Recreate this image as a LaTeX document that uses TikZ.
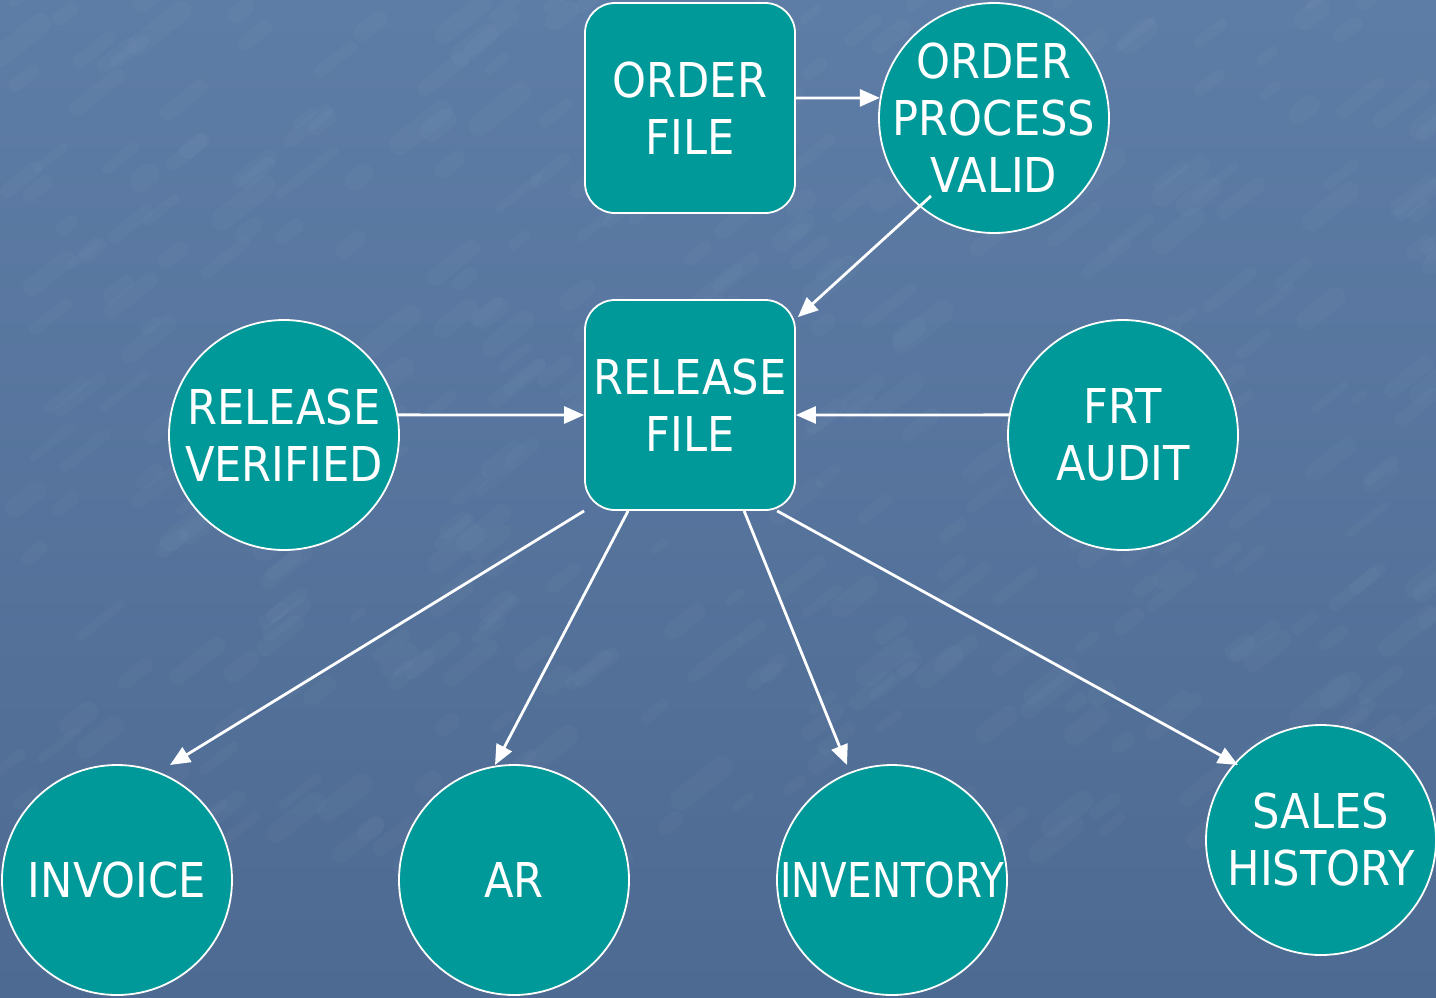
\documentclass[tikz,border=0pt]{standalone}
\usepackage{fontspec}
\setmainfont{DejaVu Sans}[FakeStretch=0.9]
\usetikzlibrary{arrows.meta,calc}

\definecolor{teal}{HTML}{009999}
\definecolor{bgtop}{RGB}{94,125,166}
\definecolor{bgbot}{RGB}{77,106,146}

\begin{document}
\begin{tikzpicture}[x=1pt,y=-1pt,
  every node/.style={text=white,font=\fontsize{48}{57}\selectfont,align=center,inner sep=0pt},
  filebox/.style={draw=white,line width=1.8pt,fill=teal,rounded corners=30pt,
    minimum width=210pt,minimum height=210pt},
  bubble/.style={circle,draw=white,line width=1.8pt,fill=teal,minimum size=230pt,inner sep=-45pt},
  arr/.style={draw=white,line width=2.8pt,-{Triangle[length=20pt,width=17pt]}}]

% background with a soft mottled texture
\shade[top color=bgtop,bottom color=bgbot,shading angle=0] (0,0) rectangle (1436,997);
\useasboundingbox (0,0) rectangle (1436,997);
\begin{scope}
  \clip (0,0) rectangle (1436,997);
  \pgfmathsetseed{11}
  \foreach \i in {1,...,420}{
    \pgfmathsetmacro{\px}{rnd*1436}
    \pgfmathsetmacro{\py}{rnd*880}
    \pgfmathsetmacro{\ln}{8+rnd*35}
    \pgfmathsetmacro{\lw}{8+rnd*14}
    \draw[white,opacity=0.022,line width=\lw pt,line cap=round]
      (\px,\py) -- ++(\ln,-0.8*\ln);
  }
\end{scope}

% stores
\node[filebox] (of) at (690,108) {ORDER\\FILE};
\node[filebox] (rf) at (690,405) {RELEASE\\FILE};

% processes
\node[bubble] (opv) at (994,118) {ORDER\\PROCESS\\VALID};
\node[bubble] (rv)  at (284,435) {RELEASE\\VERIFIED};
\node[bubble] (fa)  at (1123,435) {FRT\\AUDIT};
\node[bubble] (inv) at (117,880) {INVOICE};
\node[bubble] (ar)  at (514,880) {AR};
\node[bubble] (ity) at (892,880) {\scalebox{0.9}[1]{INVENTORY}};
\node[bubble] (sh)  at (1321,840) {SALES\\HISTORY};

% flows into the release file
\draw[arr] ([yshift=10pt]of.east) -- (opv.170);
\draw[arr] ($(opv.center)+(-63,78)$) -- ([shift={(2,18)}]rf.north east);
\draw[arr] (rv.10) -- ([yshift=-10pt]rf.west);
\draw[arr] (fa.170) -- ([yshift=-10pt]rf.east);

% flows out of the release file
\draw[arr] (rf.south west) -- ($(inv.center)+(53,-115)$);
\draw[arr] ([xshift=44pt]rf.south west) -- ($(ar.center)+(-19,-115)$);
\draw[arr] ([xshift=160pt]rf.south west) -- ($(ity.center)+(-45,-115)$);
\draw[arr] ([xshift=193pt]rf.south west) -- ($(sh.center)+(-83,-75)$);
\end{tikzpicture}
\end{document}
